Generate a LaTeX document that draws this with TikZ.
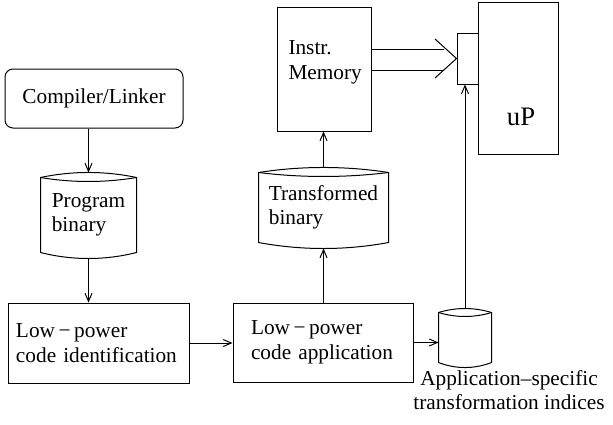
\documentclass[tikz,border=0pt]{standalone}
\usepackage{fontspec}
\setmainfont{Liberation Serif}
\usetikzlibrary{arrows.meta,calc}
\newcommand\drumoutline[5]{%
  \draw (#1.south west) -- (#1.north west) .. controls +(#2,-#3) and +(-#2,-#3) .. (#1.north east) -- (#1.south east) .. controls +(-#2,#5) and +(#2,#5) .. (#1.south west);
  \draw (#1.north west) .. controls +(#2,#4) and +(-#2,#4) .. (#1.north east);
}
\begin{document}
\begin{tikzpicture}[x=1pt,y=-1pt, line width=1pt,
  txt/.style={font=\fontsize{21.3}{24.5}\selectfont},
  blk/.style={draw, rectangle, inner sep=0pt, txt},
  drumbox/.style={rectangle, inner sep=0pt, txt, align=left},
  arr/.style={-{Straight Barb[length=8pt,width=7pt]}},
]
\useasboundingbox (0,0) rectangle (613,424);

\node[blk, rounded corners=8pt, minimum width=178pt, minimum height=59pt] (comp) at (94,98.5) {Compiler/Linker};
\node[drumbox, minimum width=95pt, minimum height=74pt] (pb) at (88.5,215) {Program\\binary};
\node[blk, minimum width=181pt, minimum height=80pt, text width=165pt, inner xsep=8pt, align=left] (lci) at (98.5,343) {Low\,−\,power\\code identification};
\node[blk, minimum width=180pt, minimum height=79pt, text width=144pt, inner xsep=18pt, align=left] (lca) at (323,342.5) {Low\,−\,power\\code application};
\node[drumbox, minimum width=129pt, minimum height=69pt] (tb) at (323.5,207.5) {Transformed\\binary};
\node[blk, minimum width=94pt, minimum height=124pt] (im) at (324,69) {};
\node[txt, anchor=north west, inner sep=0pt, align=left] (imtxt) at (288,40.5) {Instr.\\Memory};
\node[blk, minimum width=21pt, minimum height=51pt] (port) at (467.5,58.5) {};
\node[blk, minimum width=80pt, minimum height=152pt] (up) at (518,78) {};
\node[font=\fontsize{26.7}{30}\selectfont, anchor=base, inner sep=0pt] (uptxt) at (521,125) {uP};
\node[drumbox, minimum width=52pt, minimum height=49pt] (ati) at (465,337.5) {};
\node[txt, anchor=north, inner sep=0pt, align=center] (atilbl) at (509,369.5) {Application–specific\\transformation indices};

\drumoutline{pb}{31.7}{6.7}{5.3}{8}
\drumoutline{tb}{43}{6.7}{5.3}{8}
\drumoutline{ati}{17.3}{5.3}{5.3}{6.7}

\draw[arr] (comp.south -| pb.north) -- ($(pb.north)+(0,-5)$);
\draw[arr] ($(pb.south)+(0,6)$) -- (lci.north -| pb.south);
\draw[arr] (lci.east) -- (lca.west |- lci.east);
\draw[arr] (lca.north -| tb.south) -- ($(tb.south)+(0,6)$);
\draw[arr] ($(tb.north)+(0,-5)$) -- (im.south -| tb.north);
\draw[arr] (lca.east) -- (ati.west |- lca.east);
\draw[arr] ($(ati.north)+(0,-4)$) -- (port.south -| ati.north);

\coordinate (b1) at (444,49);
\coordinate (b2) at (444,70);
\coordinate (chv1) at (435,39);
\coordinate (chv2) at (435,78);
\draw (im.east |- b1) -- (b1);
\draw (im.east |- b2) -- (b2);
\draw (chv1) -- (port.west) -- (chv2);
\end{tikzpicture}
\end{document}
